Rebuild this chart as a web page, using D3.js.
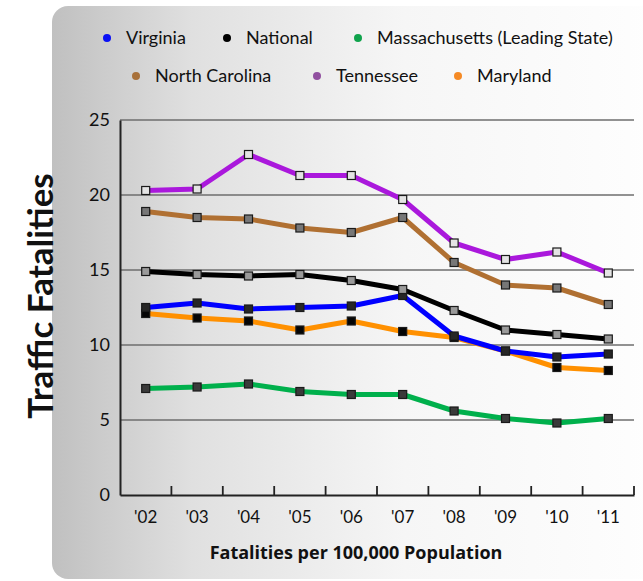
<!DOCTYPE html>
<html>
<head>
<meta charset="utf-8">
<script src="https://cdn.jsdelivr.net/npm/d3@7"></script>
<style>
  html, body { margin: 0; padding: 0; background: #fff; }
  svg { display: block; }
  text { font-family: Lato, "Open Sans", sans-serif; fill: #111; }
</style>
</head>
<body>
<svg id="chart" width="643" height="581"></svg>
<script>
// Years on the x axis
const years = ["'02", "'03", "'04", "'05", "'06", "'07", "'08", "'09", "'10", "'11"];
const yTicks = [0, 5, 10, 15, 20, 25];

// Fatalities per 100,000 population
const virginia      = [12.5, 12.8, 12.4, 12.5, 12.6, 13.3, 10.6, 9.6, 9.2, 9.4];
const national      = [14.9, 14.7, 14.6, 14.7, 14.3, 13.7, 12.3, 11.0, 10.7, 10.4];
const massachusetts = [7.1, 7.2, 7.4, 6.9, 6.7, 6.7, 5.6, 5.1, 4.8, 5.1];
const northCarolina = [18.9, 18.5, 18.4, 17.8, 17.5, 18.5, 15.5, 14.0, 13.8, 12.7];
const tennessee     = [20.3, 20.4, 22.7, 21.3, 21.3, 19.7, 16.8, 15.7, 16.2, 14.8];
const maryland      = [12.1, 11.8, 11.6, 11.0, 11.6, 10.9, 10.5, 9.6, 8.5, 8.3];

const seriesNames = ["Virginia", "National", "Massachusetts (Leading State)", "North Carolina", "Tennessee", "Maryland"];

const series = [
  { name: "Massachusetts (Leading State)", values: massachusetts, line: "#00b04c", marker: "#3a3a3a" },
  { name: "Maryland",       values: maryland,      line: "#ff9000", marker: "#050505" },
  { name: "Virginia",       values: virginia,      line: "#0000ff", marker: "#262626" },
  { name: "National",       values: national,      line: "#000000", marker: "#9a9a9a" },
  { name: "North Carolina", values: northCarolina, line: "#b07032", marker: "#777777" },
  { name: "Tennessee",      values: tennessee,     line: "#aa18dc", marker: "#e4e4e4" }
];

const legendColors = {
  "Virginia": "#0a10f5",
  "National": "#000000",
  "Massachusetts (Leading State)": "#10a34c",
  "North Carolina": "#a8713a",
  "Tennessee": "#9150a0",
  "Maryland": "#f58a25"
};

const svg = d3.select("#chart");

// Background panel with horizontal grey-to-white gradient
const defs = svg.append("defs");
const grad = defs.append("linearGradient").attr("id", "panelGrad")
  .attr("x1", "0").attr("y1", "0").attr("x2", "1").attr("y2", "0");
grad.append("stop").attr("offset", "0").attr("stop-color", "#c0c0c0");
grad.append("stop").attr("offset", "0.22").attr("stop-color", "#e0e0e0");
grad.append("stop").attr("offset", "0.55").attr("stop-color", "#f6f6f6");
grad.append("stop").attr("offset", "1").attr("stop-color", "#ffffff");

svg.append("rect")
  .attr("x", 52).attr("y", 6).attr("width", 640).attr("height", 573)
  .attr("rx", 16).attr("ry", 16)
  .attr("fill", "url(#panelGrad)");

// Plot area
const margin = { left: 120, right: 634, top: 120, bottom: 495 };

const x = d3.scaleBand().domain(years).range([margin.left, margin.right]).padding(0);
const y = d3.scaleLinear().domain([0, 25]).range([margin.bottom, margin.top]);

// Horizontal gridlines
svg.append("g").selectAll("line")
  .data(yTicks.filter(d => d > 0))
  .join("line")
  .attr("x1", margin.left).attr("x2", margin.right)
  .attr("y1", d => y(d)).attr("y2", d => y(d))
  .attr("stroke", "#6e6e6e").attr("stroke-width", 1.6);

// Y axis
const yAxis = svg.append("g")
  .attr("transform", `translate(${margin.left},0)`)
  .call(d3.axisLeft(y).tickValues(yTicks).tickSize(0).tickPadding(10));
yAxis.select(".domain").attr("stroke", "#222").attr("stroke-width", 2);
yAxis.selectAll("text")
  .style("font-family", "Lato, 'Open Sans', sans-serif")
  .style("font-size", "18px").attr("fill", "#111");

// X axis with inward tick marks at band boundaries
const xAxis = svg.append("g")
  .attr("transform", `translate(0,${margin.bottom})`)
  .call(d3.axisBottom(x).tickSize(0).tickPadding(16));
xAxis.select(".domain").attr("stroke", "#222").attr("stroke-width", 2.2);
xAxis.selectAll("text")
  .style("font-family", "Lato, 'Open Sans', sans-serif")
  .style("font-size", "17px").attr("fill", "#111");

const boundaries = years.slice(1).map(d => x(d)).concat([x.range()[1]]);
svg.append("g").selectAll("line")
  .data(boundaries)
  .join("line")
  .attr("x1", d => d).attr("x2", d => d)
  .attr("y1", margin.bottom).attr("y2", margin.bottom - 9)
  .attr("stroke", "#222").attr("stroke-width", 1.8);

// Lines and square markers
const cx = (d, i) => x(years[i]) + x.bandwidth() / 2;
const line = d3.line().x((d, i) => cx(d, i)).y(d => y(d));

const gSeries = svg.append("g");
series.forEach(s => {
  gSeries.append("path")
    .datum(s.values)
    .attr("d", line)
    .attr("fill", "none")
    .attr("stroke", s.line)
    .attr("stroke-width", 5)
    .attr("stroke-linejoin", "round");
});
series.forEach(s => {
  gSeries.append("g").selectAll("rect")
    .data(s.values)
    .join("rect")
    .attr("x", (d, i) => cx(d, i) - 4)
    .attr("y", d => y(d) - 4)
    .attr("width", 8).attr("height", 8)
    .attr("fill", s.marker)
    .attr("stroke", "#1a1a1a").attr("stroke-width", 1.2);
});

// Legend, two rows
const legendRows = [
  { y: 38, items: [{ name: seriesNames[0], x: 107 }, { name: seriesNames[1], x: 227 }, { name: seriesNames[2], x: 358 }] },
  { y: 76, items: [{ name: seriesNames[3], x: 136 }, { name: seriesNames[4], x: 317 }, { name: seriesNames[5], x: 458 }] }
];
const legend = svg.append("g");
legendRows.forEach(row => {
  row.items.forEach(it => {
    legend.append("circle")
      .attr("cx", it.x).attr("cy", row.y).attr("r", 4)
      .attr("fill", legendColors[it.name]);
    legend.append("text")
      .attr("x", it.x + 19).attr("y", row.y)
      .attr("dy", "0.36em")
      .style("font-size", "18px")
      .text(it.name);
  });
});

// Axis titles
svg.append("text")
  .attr("x", 356)
  .attr("y", 559)
  .attr("text-anchor", "middle")
  .style("font-family", "'Open Sans', sans-serif")
  .style("font-size", "18px").style("font-weight", "bold")
  .text("Fatalities per 100,000 Population");

svg.append("text")
  .attr("transform", "translate(53,296) rotate(-90)")
  .attr("text-anchor", "middle")
  .style("font-size", "35px").style("font-weight", "bold")
  .attr("fill", "#333")
  .text("Traffic Fatalities");
</script>
</body>
</html>
